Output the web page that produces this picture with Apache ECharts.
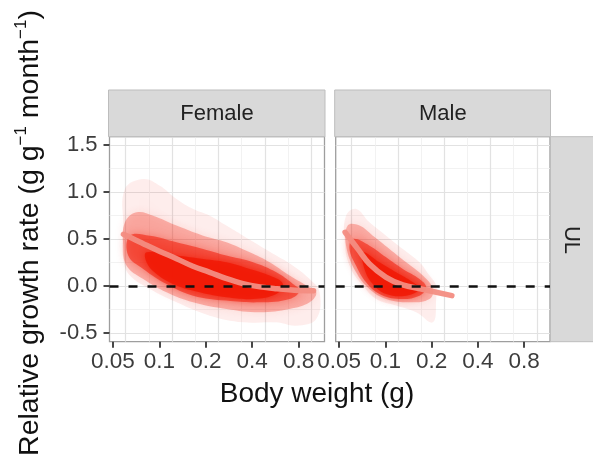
<!DOCTYPE html>
<html>
<head>
<meta charset="utf-8">
<script src="https://cdn.jsdelivr.net/npm/echarts@6/dist/echarts.min.js"></script>
<style>
html, body { margin: 0; padding: 0; background: #fff; }
#chart { width: 593px; height: 463px; }
</style>
</head>
<body>
<div id="chart"></div>
<script>
// facets and axis breaks
var panels = ['Female', 'Male'];
var rowLabel = 'UL';
var xTicks = [0.05, 0.1, 0.2, 0.4, 0.8];
var yTicks = [-0.5, 0, 0.5, 1.0, 1.5];
var xGridMajor = [0.0604, 0.1207, 0.2415, 0.483, 0.966];
var xGridMinor = [0.0854, 0.1707, 0.3415, 0.683];
var yGridMinor = [-0.25, 0.25, 0.75, 1.25];
var xRange = [0.0475, 1.177];
var yRange = [-0.593, 1.588];

var femaleCloud = [
    [[0.0598,1.032],[0.0786,1.138],[0.1007,1.067],[0.1292,0.926],[0.1656,0.819],[0.2123,0.748],[0.2722,0.642],[0.3489,0.535],[0.4473,0.429],[0.5735,0.323],[0.735,0.216],[0.9427,0.074],[1.094,-0.067],[1.041,-0.351],[0.7727,-0.422],[0.5735,-0.387],[0.3489,-0.387],[0.2123,-0.316],[0.1292,-0.174],[0.0868,-0.032],[0.0644,0.110],[0.0583,0.287],[0.0583,0.642]],
    [[0.0598,0.677],[0.0712,0.784],[0.0912,0.748],[0.1292,0.642],[0.1922,0.535],[0.2722,0.465],[0.3854,0.358],[0.519,0.252],[0.6995,0.110],[0.897,0.004],[1.041,-0.067],[0.9427,-0.174],[0.6995,-0.245],[0.4473,-0.280],[0.2722,-0.245],[0.1656,-0.174],[0.1113,-0.067],[0.0786,0.074],[0.0613,0.216],[0.0583,0.429]],
    [[0.0644,0.535],[0.0868,0.535],[0.1292,0.465],[0.1922,0.394],[0.2722,0.323],[0.405,0.252],[0.5735,0.145],[0.735,0.021],[0.812,-0.050],[0.6995,-0.138],[0.4473,-0.174],[0.2722,-0.156],[0.1656,-0.103],[0.1113,0.021],[0.0786,0.181],[0.0628,0.323]],
    [[0.0826,0.358],[0.1292,0.323],[0.1922,0.287],[0.2722,0.252],[0.3854,0.181],[0.519,0.110],[0.633,0.021],[0.5735,-0.085],[0.405,-0.138],[0.2722,-0.121],[0.1829,-0.067],[0.1292,0.004],[0.0959,0.128],[0.0826,0.252]]
];
var maleCloud = [
    [[0.0555,0.748],[0.0645,0.819],[0.0788,0.677],[0.1011,0.535],[0.1298,0.394],[0.1667,0.252],[0.1936,0.110],[0.2140,0.004],[0.2140,-0.138],[0.2035,-0.387],[0.1585,-0.280],[0.1175,-0.209],[0.0871,-0.138],[0.0713,0.004],[0.0584,0.216],[0.0542,0.500]],
    [[0.0569,0.642],[0.0678,0.642],[0.0828,0.535],[0.1063,0.394],[0.1365,0.252],[0.1752,0.110],[0.2035,-0.032],[0.1936,-0.138],[0.1435,-0.174],[0.1011,-0.138],[0.0788,-0.032],[0.0645,0.145],[0.0555,0.429]],
    [[0.0614,0.500],[0.0788,0.429],[0.1011,0.305],[0.1298,0.181],[0.1667,0.074],[0.1842,-0.014],[0.1667,-0.103],[0.1235,-0.138],[0.0915,-0.085],[0.0749,0.039],[0.0645,0.216],[0.0584,0.394]],
    [[0.0713,0.358],[0.0915,0.252],[0.1175,0.145],[0.1508,0.039],[0.1667,-0.032],[0.1365,-0.103],[0.1011,-0.085],[0.0828,0.021],[0.0731,0.181]]
];

// smoothed trend
var femaleTrend = [[0.0585,0.55],[0.07,0.49],[0.0786,0.45],[0.1,0.37],[0.1292,0.29],[0.165,0.21],[0.2123,0.145],[0.27,0.08],[0.3489,0.025],[0.45,-0.01],[0.5735,-0.03],[0.75,-0.045],[1.0,-0.05]];
var maleTrend = [[0.0547,0.571],[0.0661,0.394],[0.0788,0.234],[0.1011,0.092],[0.1298,0.011],[0.1684,-0.03],[0.2706,-0.103]];

var clouds = [femaleCloud, maleCloud];
var trends = [femaleTrend, maleTrend];

var FONT = 'Liberation Sans, Arial, Helvetica, sans-serif';
var cloudColors = ['rgba(242,40,20,0.08)', 'rgba(242,40,20,0.30)', 'rgba(242,35,15,0.58)', 'rgba(240,25,5,0.82)'];
var cloudBlur = [14, 10, 8, 6];
var gridBoxes = [
    { left: 109.5, width: 215 },
    { left: 335.7, width: 214.3 }
];
var TOP = 136.7, HEIGHT = 205;

function lg(w) { return Math.log(w) / Math.LN2; }
function toXY(pts) { return pts.map(function (p) { return [lg(p[0]), p[1]]; }); }

var grids = [], xAxes = [], yAxes = [], series = [];

panels.forEach(function (name, i) {
    grids.push({
        left: gridBoxes[i].left, top: TOP, width: gridBoxes[i].width, height: HEIGHT,
        show: true, borderColor: '#9e9e9e', borderWidth: 1.3, backgroundColor: '#fff',
        outerBoundsMode: 'none'
    });

    // ticks + labels
    xAxes.push({
        type: 'value', gridIndex: i, min: lg(xRange[0]), max: lg(xRange[1]),
        axisLine: { show: false, onZero: false },
        axisTick: { show: true, length: 6, customValues: xTicks.map(lg), lineStyle: { color: '#333', width: 1.8 } },
        axisLabel: {
            customValues: xTicks.map(lg), margin: 9, fontSize: 22.5, color: '#3c3c3c', fontFamily: FONT,
            formatter: function (v) { return String(Math.round(Math.pow(2, v) * 100) / 100); }
        },
        splitLine: { show: false }
    });
    // vertical grid, major
    xAxes.push({
        type: 'value', gridIndex: i, min: lg(xRange[0]), max: lg(xRange[1]),
        axisLine: { show: false, onZero: false },
        axisTick: { show: false, customValues: xGridMajor.map(lg) },
        axisLabel: { show: false },
        splitLine: { show: true, lineStyle: { color: '#e2e2e2', width: 1.2 } }
    });
    // vertical grid, minor
    xAxes.push({
        type: 'value', gridIndex: i, min: lg(xRange[0]), max: lg(xRange[1]),
        axisLine: { show: false, onZero: false },
        axisTick: { show: false, customValues: xGridMinor.map(lg) },
        axisLabel: { show: false },
        splitLine: { show: true, lineStyle: { color: '#efefef', width: 0.8 } }
    });

    yAxes.push({
        type: 'value', gridIndex: i, min: yRange[0], max: yRange[1],
        axisLine: { show: false, onZero: false },
        axisTick: { show: i === 0, length: 6, customValues: yTicks, lineStyle: { color: '#333', width: 1.8 } },
        axisLabel: {
            show: i === 0, customValues: yTicks, margin: 12, fontSize: 22, color: '#3c3c3c', fontFamily: FONT,
            formatter: function (v) { return v.toFixed(1); }
        },
        splitLine: { show: true, lineStyle: { color: '#e2e2e2', width: 1.2 } }
    });
    yAxes.push({
        type: 'value', gridIndex: i, min: yRange[0], max: yRange[1],
        axisLine: { show: false, onZero: false },
        axisTick: { show: false, customValues: yGridMinor },
        axisLabel: { show: false },
        splitLine: { show: true, lineStyle: { color: '#efefef', width: 0.8 } }
    });

    clouds[i].forEach(function (pts, k) {
        series.push({
            type: 'custom', name: name + ' cloud ' + k,
            xAxisIndex: i * 3, yAxisIndex: i * 2,
            silent: true, z: 2, clip: true,
            data: toXY(pts),
            renderItem: function (params, api) {
                if (params.dataIndex !== 0) return;
                var poly = pts.map(function (p) { return api.coord([lg(p[0]), p[1]]); });
                return {
                    type: 'polygon',
                    shape: { points: poly, smooth: 0.4 },
                    style: { fill: cloudColors[k], shadowBlur: cloudBlur[k], shadowColor: cloudColors[k] }
                };
            }
        });
    });

    series.push({
        type: 'line', name: name + ' trend',
        xAxisIndex: i * 3, yAxisIndex: i * 2,
        data: toXY(trends[i]), smooth: 0.4, symbol: 'none', silent: true, z: 3,
        lineStyle: { color: '#f38d82', width: 5.5, opacity: 0.95, cap: 'round' }
    });

    // zero line
    series.push({
        type: 'line', name: name + ' zero',
        xAxisIndex: i * 3, yAxisIndex: i * 2,
        data: [], z: 4, silent: true,
        markLine: {
            silent: true, symbol: 'none', label: { show: false },
            lineStyle: { color: '#111', width: 2.6, type: [9, 10] },
            data: [{ yAxis: 0 }]
        }
    });
});

var graphics = [];
// facet strips on top
panels.forEach(function (name, i) {
    graphics.push({
        type: 'rect', z: 10,
        shape: { x: gridBoxes[i].left - 1, y: 90, width: gridBoxes[i].width + 1.5, height: TOP - 90 },
        style: { fill: '#d9d9d9', stroke: '#bdbdbd', lineWidth: 1 }
    });
    graphics.push({
        type: 'text', z: 11,
        x: gridBoxes[i].left + gridBoxes[i].width / 2, y: 114,
        style: { text: name, fill: '#222', font: '22px ' + FONT, align: 'center', verticalAlign: 'middle' }
    });
});
// row strip on the right
graphics.push({
    type: 'rect', z: 10,
    shape: { x: 550.5, y: TOP, width: 45, height: HEIGHT },
    style: { fill: '#d9d9d9', stroke: '#bdbdbd', lineWidth: 1 }
});
graphics.push({
    type: 'text', z: 11, x: 571, y: 240, rotation: -Math.PI / 2,
    style: { text: rowLabel, fill: '#222', font: '22px ' + FONT, align: 'center', verticalAlign: 'middle' }
});
// axis titles
graphics.push({
    type: 'text', z: 11, x: 317, y: 394,
    style: { text: 'Body weight (g)', fill: '#111', font: '28px ' + FONT, align: 'center', verticalAlign: 'middle' }
});
graphics.push({
    type: 'text', z: 11, x: 30, y: 233, rotation: Math.PI / 2,
    style: {
        text: 'Relative growth rate (g g{sup|\u22121} month{sup|\u22121})',
        fill: '#111', font: '28.5px ' + FONT, align: 'center', verticalAlign: 'middle', lineHeight: 34,
        rich: { sup: { fontSize: 17, fontFamily: FONT, fill: '#111', verticalAlign: 'top', lineHeight: 34 } }
    }
});

var chart = echarts.init(document.getElementById('chart'));
chart.setOption({
    backgroundColor: '#fff',
    animation: false,
    grid: grids,
    xAxis: xAxes,
    yAxis: yAxes,
    series: series,
    graphic: graphics
});
</script>
</body>
</html>
